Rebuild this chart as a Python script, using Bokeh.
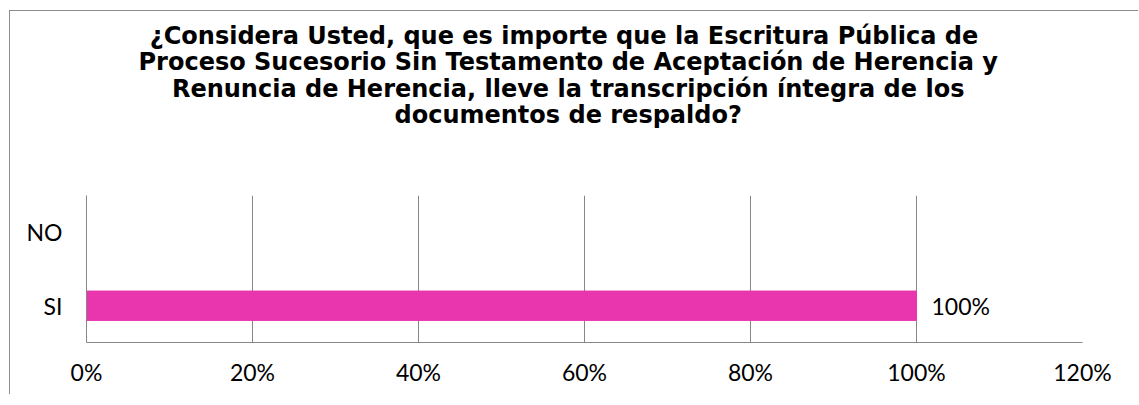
from bokeh.plotting import figure
from bokeh.layouts import column
from bokeh.models import NumeralTickFormatter, FixedTicker, ColumnDataSource
from bokeh.core.properties import value
from bokeh.embed import file_html
from bokeh.resources import INLINE

# ---- data ----
categories = ["SI", "NO"]          # bottom to top
values = [1.00, 0.0]
value_labels = ["100%", ""]
x_ticks = [0.0, 0.2, 0.4, 0.6, 0.8, 1.0, 1.2]
title_lines = [
    "¿Considera Usted,  que es importe que la Escritura Pública de",
    "Proceso Sucesorio Sin Testamento de Aceptación de Herencia y",
    "Renuncia de Herencia, lleve la transcripción íntegra de los",
    "documentos de respaldo?",
]

GRID = "#878787"
BAR = "#E936AE"
LABEL_FONT = "Lato"
TITLE_FONT = "DejaVu Sans"

W = 1129          # width of both panels
TITLE_H = 184     # height of the title panel (pixels)
CHART_H = 200     # height of the chart panel (pixels)

# ---- title panel: a pixel-scaled figure holding the centred title lines ----
tf = figure(width=W, height=TITLE_H, x_range=(0, W), y_range=(TITLE_H, 0),
            output_backend="svg", toolbar_location=None, min_border=0,
            x_axis_type=None, y_axis_type=None)
tf.outline_line_color = None
title_center_x = 546
first_baseline = 24
line_pitch = 26.6
tsrc = ColumnDataSource(dict(
    x=[title_center_x] * len(title_lines),
    y=[first_baseline + i * line_pitch for i in range(len(title_lines))],
    t=title_lines))
tf.text(x="x", y="y", text="t", source=tsrc, text_align="center",
        text_baseline="alphabetic", text_font=value(TITLE_FONT),
        text_font_style="bold", text_font_size="24px", text_color="#000000")

# ---- chart panel ----
src = ColumnDataSource(dict(cat=categories, val=values, lab=value_labels))
p = figure(width=W, height=CHART_H, y_range=categories, x_range=(0, 1.2),
           output_backend="svg", toolbar_location=None,
           min_border_left=76, min_border_right=57,
           min_border_top=0, min_border_bottom=53)

p.hbar(y="cat", right="val", height=0.4, color=BAR, source=src)
p.text(x="val", y="cat", text="lab", source=src, x_offset=15,
       text_baseline="middle", text_align="left",
       text_font=value(LABEL_FONT), text_font_size="23px", text_color="#000000")

p.outline_line_color = None
p.ygrid.grid_line_color = None
p.xgrid.grid_line_color = GRID
p.xgrid.grid_line_width = 1

p.xaxis.ticker = FixedTicker(ticks=x_ticks)
p.xaxis.formatter = NumeralTickFormatter(format="0%")
for ax in (p.xaxis, p.yaxis):
    ax.axis_line_color = GRID
    ax.axis_line_width = 1
    ax.major_tick_line_color = None
    ax.minor_tick_line_color = None
    ax.major_tick_out = 0
    ax.major_tick_in = 0
    ax.minor_tick_out = 0
    ax.major_label_text_font = LABEL_FONT
    ax.major_label_text_font_size = "23px"
    ax.major_label_text_color = "#000000"
p.xaxis.major_label_standoff = 15
p.yaxis.major_label_standoff = 24

layout = column(tf, p, spacing=0)
layout.styles = {"position": "relative", "left": "10px", "top": "11px",
                 "box-shadow": "-1px -1px 0 0 #8c8c8c"}

html = file_html(layout, INLINE)
html = html.replace("<head>", "<head><style>html, body { overflow: hidden; }</style>", 1)
open("out.html", "w").write(html)
